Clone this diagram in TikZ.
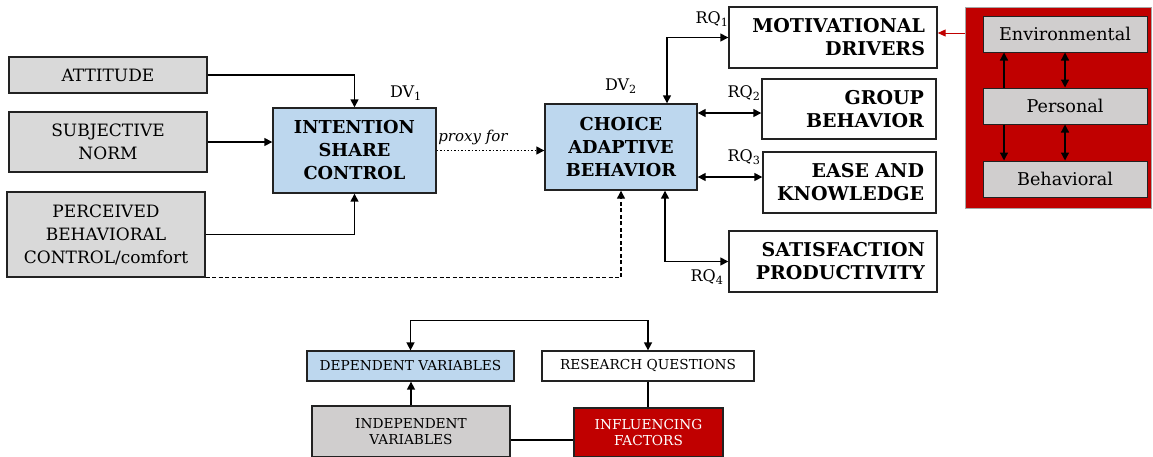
\documentclass[tikz,border=0pt]{standalone}
\usepackage{fontspec}
\setmainfont{DejaVu Serif}
\usetikzlibrary{arrows.meta,calc}
\definecolor{boxgray}{HTML}{D9D9D9}
\definecolor{softgray}{HTML}{D0CECE}
\definecolor{boxblue}{HTML}{BDD7EE}
\definecolor{boxred}{HTML}{C00000}
\definecolor{edge}{HTML}{222222}
\begin{document}
\begin{tikzpicture}[x=1pt,y=-1pt,
  box/.style={draw=edge, line width=1.4pt, inner sep=0pt, align=center, font=\fontsize{17}{23}\selectfont},
  gbox/.style={box, fill=boxgray},
  bbox/.style={box, fill=boxblue, font=\fontsize{17.8}{23}\selectfont\bfseries},
  rqbox/.style={box, fill=white, inner xsep=12pt, align=right, font=\fontsize{19}{23}\selectfont\bfseries},
  sbox/.style={draw=edge, line width=1pt, fill=softgray, inner sep=0pt, minimum width=164pt, minimum height=36pt, font=\fontsize{17.6}{24}\selectfont},
  lgbox/.style={draw=edge, line width=1.3pt, inner sep=0pt, align=center, font=\fontsize{13.7}{16}\selectfont},
  lab/.style={inner sep=0pt, font=\fontsize{16}{20}\selectfont},
  conn/.style={draw=black, line width=1.5pt},
  arr/.style={conn, -{Triangle[length=8pt,width=8pt]}},
  darr/.style={conn, {Triangle[length=8pt,width=8pt]}-{Triangle[length=8pt,width=8pt]}},
]
\useasboundingbox (0,0) rectangle (1153,456);

% independent variables
\node[gbox, minimum width=198pt, minimum height=36pt] (att) at (108,75) {ATTITUDE};
\node[gbox, minimum width=198pt, minimum height=60pt] (sub) at (108,142) {SUBJECTIVE\\NORM};
\node[gbox, minimum width=198pt, minimum height=85pt] (pbc) at (106,234.5) {PERCEIVED\\BEHAVIORAL\\CONTROL/comfort};

% dependent variables
\node[bbox, minimum width=163pt, minimum height=85pt] (int) at (354.5,150.5) {INTENTION\\SHARE\\CONTROL};
\node[bbox, minimum width=152pt, minimum height=86pt] (cho) at (621,147) {CHOICE\\ADAPTIVE\\BEHAVIOR};

% research questions
\node[rqbox, text width=184pt, minimum height=61pt] (mot) at (833,37.5) {MOTIVATIONAL\\DRIVERS};
\node[rqbox, text width=150pt, minimum height=60pt] (grp) at (849,109) {GROUP\\BEHAVIOR};
\node[rqbox, text width=149pt, minimum height=61pt] (eas) at (849.5,182.5) {EASE AND\\KNOWLEDGE};
\node[rqbox, text width=184pt, minimum height=61pt] (sat) at (833,261.5) {SATISFACTION\\PRODUCTIVITY};

% influencing factors
\node[draw=gray!70, line width=0.8pt, fill=boxred, minimum width=186pt, minimum height=201pt, inner sep=0pt] (red) at (1058,107.5) {};
\node[sbox] (env) at (1065,34) {Environmental};
\node[sbox] (per) at (1065,106) {Personal};
\node[sbox] (beh) at (1065,179) {Behavioral};

% labels
\node[lab] (dv1) at (406,93) {DV\textsubscript{1}};
\node[lab] (dv2) at (621,86) {DV\textsubscript{2}};
\node[lab] (rq1) at (712,19) {RQ\textsubscript{1}};
\node[lab] (rq2) at (744,93) {RQ\textsubscript{2}};
\node[lab] (rq3) at (744,157) {RQ\textsubscript{3}};
\node[lab] (rq4) at (707,277) {RQ\textsubscript{4}};
\node[lab, font=\fontsize{15}{19}\selectfont\itshape] (proxy) at (473,137) {proxy for};

% connectors
\draw[arr] (att.east) -| (int.north);
\draw[arr] (sub.east) -- (sub.east -| int.west);
\draw[arr] (pbc.east) -| (int.south);
\draw[arr, dashed, line width=1.2pt, dash pattern=on 4pt off 2.5pt] (pbc.south east) -| (cho.south);
\draw[arr, dotted, line width=1.4pt] (int.east) -- (int.east -| cho.west);

\draw[darr] (mot.west) -| ([xshift=46pt]cho.north);
\draw[darr] (cho.east |- grp.west) ++(0,4) coordinate (g1) -- (g1 -| grp.west);
\draw[darr] ([yshift=5.5pt]eas.west) coordinate (e1) -- (e1 -| cho.east);
\draw[darr] ([xshift=44pt]cho.south) |- (sat.west);

\draw[draw=boxred, line width=1pt, -{Triangle[length=8pt,width=7pt]}] (red.west |- 0,33) coordinate (r1) -- (r1 -| mot.east);

\draw[arr, line width=1.3pt] ([xshift=-61pt]per.north) -- ([xshift=-61pt]env.south);
\draw[arr, line width=1.3pt] ([xshift=-61pt]per.south) -- ([xshift=-61pt]beh.north);
\draw[darr, line width=1.3pt] (env.south) -- (per.north);
\draw[darr, line width=1.3pt] (per.south) -- (beh.north);

% legend
\node[lgbox, fill=boxblue, minimum width=207pt, minimum height=30pt] (dep) at (410.5,366) {DEPENDENT VARIABLES};
\node[lgbox, fill=white, minimum width=212pt, minimum height=30pt] (rq) at (648,366) {RESEARCH QUESTIONS};
\node[lgbox, fill=softgray, minimum width=198pt, minimum height=51pt] (ind) at (411,431.5) {INDEPENDENT\\VARIABLES};
\node[lgbox, fill=boxred, text=white, minimum width=149pt, minimum height=49pt] (inf) at (648.5,432.5) {INFLUENCING\\FACTORS};

\draw[arr] (ind.north) -- (ind.north |- dep.south);
\draw[darr] (dep.north) -- ++(0,-30) -| (rq.north);
\draw[conn] (rq.south) -- (rq.south |- inf.north);
\draw[conn] ([yshift=-8.5pt]ind.east) coordinate (i1) -- (i1 -| inf.west);
\end{tikzpicture}
\end{document}
